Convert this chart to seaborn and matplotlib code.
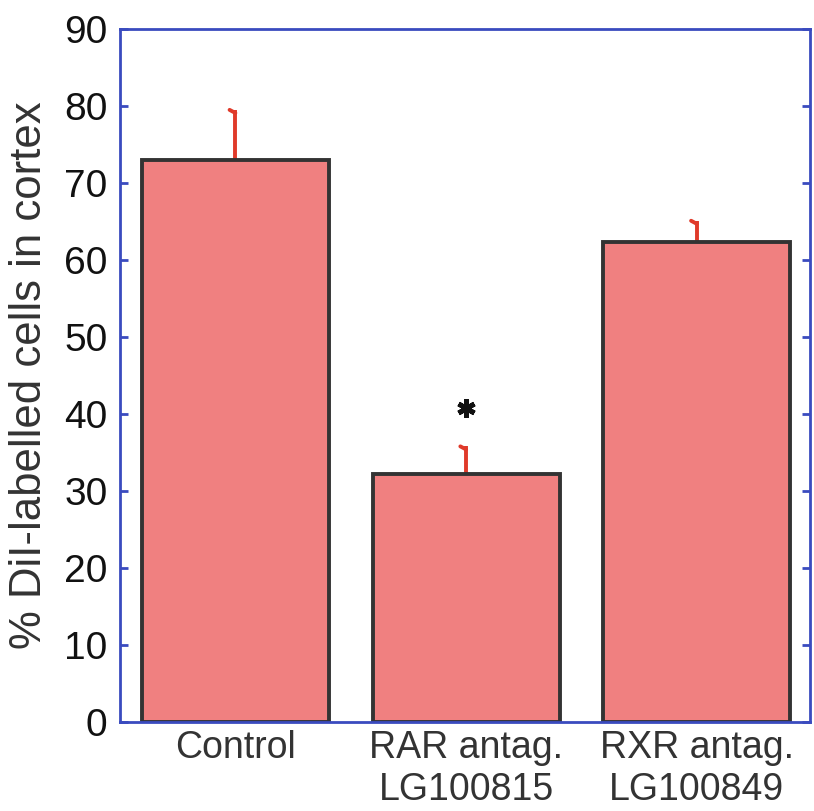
import matplotlib
matplotlib.use("Agg")
import matplotlib.pyplot as plt
import seaborn as sns
import pandas as pd

categories = ["Control", "RAR antag.\nLG100815", "RXR antag.\nLG100849"]
values = [73.0, 32.2, 62.3]
errors = [6.5, 3.6, 2.8]
yticks = [0, 10, 20, 30, 40, 50, 60, 70, 80, 90]
star_y = 40.8

sns.set_theme(style="white")
plt.rcParams['font.family'] = ['Liberation Sans', 'DejaVu Sans']

df = pd.DataFrame({"cat": categories, "val": values})

fig = plt.figure(figsize=(8.14, 8.11), dpi=100)
ax = fig.add_axes([0.1474, 0.1097, 0.8476, 0.8545])

sns.barplot(data=df, x="cat", y="val", ax=ax, color="#F08080", saturation=1,
            width=0.81, edgecolor="#333333", linewidth=2.8, errorbar=None, zorder=2)

ax.errorbar(range(len(values)), values, yerr=[[0]*len(values), errors], fmt="none",
            ecolor="#e03a2a", elinewidth=2.8, capsize=0, zorder=1)
for i, (v, e) in enumerate(zip(values, errors)):
    ax.plot([i - 0.025, i], [v + e, v + e - 0.4], color="#e03a2a", lw=2.8, zorder=1)

ax.plot([1], [star_y], marker=(6, 2, 0), markersize=13, markeredgewidth=3.5,
        color="#111111", linestyle="none")

ax.set_xlim(-0.5, 2.49)
ax.set_ylim(0, 90)
ax.set_yticks(yticks)
ax.set_xlabel("")
ax.set_ylabel("% DiI-labelled cells in cortex", fontsize=31.5, color="#333333")
ax.yaxis.set_label_coords(-0.102, 0.5)

for s in ax.spines.values():
    s.set_color("#3a4bbf")
    s.set_linewidth(2)
    s.set_visible(True)

ax.tick_params(axis="y", which="both", direction="in", length=6, width=2, color="#3a4bbf",
               labelsize=28, labelcolor="#111111", left=True, right=True, pad=9)
ax.tick_params(axis="x", length=0, labelsize=27, labelcolor="#333333", pad=6)

fig.savefig("out.png", dpi=100)
